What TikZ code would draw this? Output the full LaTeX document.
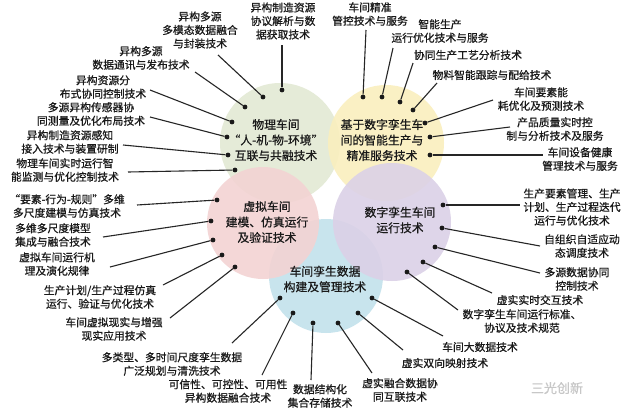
\documentclass[tikz,border=0pt]{standalone}
\usepackage{fontspec}
\setmainfont{Noto Sans CJK SC}[FakeBold=0.7]
\begin{document}
\begin{tikzpicture}[x=1pt,y=-1pt,
  lab/.style={align=center,font=\fontsize{10.8}{13.5}\selectfont,inner sep=0pt,text=black!90},
  ctext/.style={align=center,font=\fontsize{11.8}{15.5}\selectfont,inner sep=0pt,text=black!90},
  dot/.style={circle,fill=black!90,inner sep=0pt,minimum size=4.8pt},
  lead/.style={line width=1.1pt,black!85},
  bubble/.style={fill opacity=0.9}]
\definecolor{cgreen}{HTML}{E3E9D4}
\definecolor{cyellow}{HTML}{FAEFBE}
\definecolor{cpink}{HTML}{F3D3D3}
\definecolor{cpurple}{HTML}{DBD1E7}
\definecolor{cblue}{HTML}{C3E2EC}
\fill[white] (0,0) rectangle (630,418);
\useasboundingbox (0,0) rectangle (630,418);
% circles
\fill[cblue,bubble] (326,276) circle[radius=57pt];
\fill[cgreen,bubble] (280,143) circle[radius=60pt];
\fill[cyellow,bubble] (386,143) circle[radius=58pt];
\fill[cpink,bubble] (263,223) circle[radius=56pt];
\fill[cpurple,bubble] (392,222) circle[radius=59pt];
% circle texts
\node[ctext] (tg) at (276,140) {物理车间\\“人-机-物-环境”\\互联与共融技术};
\node[ctext] (ty) at (382,140) {基于数字孪生车\\间的智能生产与\\精准服务技术};
\node[ctext] (tp) at (267,222) {虚拟车间\\建模、仿真运行\\及验证技术};
\node[ctext] (tu) at (400,220) {数字孪生车间\\运行技术};
\node[ctext] (tb) at (325,279) {车间孪生数据\\构建及管理技术};
% green labels
\node[lab] (g1) at (200,30) {异构多源\\多模态数据融合\\与封装技术};
\node[lab] (g2) at (283,21) {异构制造资源\\协议解析与数\\据获取技术};
\node[lab] (g3) at (141,58) {异构多源\\数据通讯与发布技术};
\node[lab] (g4) at (103,87) {异构资源分\\布式协同控制技术};
\node[lab] (g5) at (91,114) {多源异构传感器协\\同测量及优化布局技术};
\node[lab] (g6) at (70,142) {异构制造资源感知\\接入技术与装置研制};
\node[lab] (g7) at (65,170) {物理车间实时运行智\\能监测与优化控制技术};
% pink labels
\node[lab] (p1) at (67,206) {“要素-行为-规则”多维\\多尺度建模与仿真技术};
\node[lab] (p2) at (53,235) {多维多尺度模型\\集成与融合技术};
\node[lab] (p3) at (57,264) {虚拟车间运行机\\理及演化规律};
\node[lab] (p4) at (100,297) {生产计划/生产过程仿真\\运行、验证与优化技术};
\node[lab] (p5) at (114,329) {车间虚拟现实与增强\\现实应用技术};
% blue labels
\node[lab] (b1) at (172,364) {多类型、多时间尺度孪生数据\\广泛规划与清洗技术};
\node[lab] (b2) at (228,391) {可信性、可控性、可用性\\异构数据融合技术};
\node[lab] (b3) at (320,396) {数据结构化\\集合存储技术};
\node[lab] (b4) at (400,390) {虚实融合数据协\\同互联技术};
\node[lab] (b5) at (445,363) {虚实双向映射技术};
\node[lab] (b6) at (480,347) {车间大数据技术};
% purple labels
\node[lab] (u1) at (572,207) {生产要素管理、生产\\计划、生产过程迭代\\运行与优化技术};
\node[lab] (u2) at (582,246) {自组织自适应动\\态调度技术};
\node[lab] (u3) at (577,279) {多源数据协同\\控制技术};
\node[lab] (u4) at (540,300) {虚实实时交互技术};
\node[lab] (u5) at (522,321) {数字孪生车间运行标准、\\协议及技术规范};
% yellow labels
\node[lab] (y1) at (370,14) {车间精准\\管控技术与服务};
\node[lab] (y2) at (440,31) {智能生产\\运行优化技术与服务};
\node[lab] (y3) at (468,55) {协同生产工艺分析技术};
\node[lab] (y4) at (492,75) {物料智能跟踪与配给技术};
\node[lab] (y5) at (541,99) {车间要素能\\耗优化及预测技术};
\node[lab] (y6) at (555,129) {产品质量实时控\\制与分析技术及服务};
\node[lab] (y7) at (580,159) {车间设备健康\\管理技术与服务};
% watermark
\node[font=\fontsize{13}{13}\selectfont,text=black!22,inner sep=0pt] (wm) at (557,388) {三光创新};
% dots
\foreach \n/\x/\y in {dg1/263/97,dg2/282/90,dg3/245/107,dg4/232/122,dg5/227/137,dg6/228/155,dg7/235/170,
  dp1/217/200,dp2/211/221,dp3/213/240,dp4/222/255,dp5/235/267,
  db1/280/298,db2/293/313,db3/313/323,db4/338/323,db5/358/313,db6/372/298,
  du1/443/205,du2/442/228,du3/435/247,du4/423/262,du5/407/272,
  dy1/363/97,dy2/382/97,dy3/400/102,dy4/413/110,dy5/425/123,dy6/430/137,dy7/430/155}
  {\node[dot] (\n) at (\x,\y) {};}
% leader ends
\foreach \n/\x/\y in {eg1/218/55,eg2/282/45,eg3/195/72,eg4/150/90,eg5/150/117,eg6/123/145,eg7/128/172,
  ep1/137/205,ep2/103/237,ep3/110/267,ep4/163/285,ep5/170/318,
  eb1/232/343,eb2/262/375,eb3/311/380,eb4/372/373,eb5/403/350,eb6/443/336,
  eu1/520/205,eu2/540/246,eu3/540/273,eu4/492/293,eu5/458/310,
  ey1/366/30,ey2/393/48,ey3/413/63,ey4/437/83,ey5/493/100,ey6/510/127,ey7/543/155}
  {\coordinate (\n) at (\x,\y);}
\foreach \s in {g1,g2,g3,g4,g5,g6,g7,p1,p2,p3,p4,p5,b1,b2,b3,b4,b5,b6,u1,u2,u3,u4,u5,y1,y2,y3,y4,y5,y6,y7}
  {\draw[lead] (d\s) -- (e\s);}
\end{tikzpicture}
\end{document}
